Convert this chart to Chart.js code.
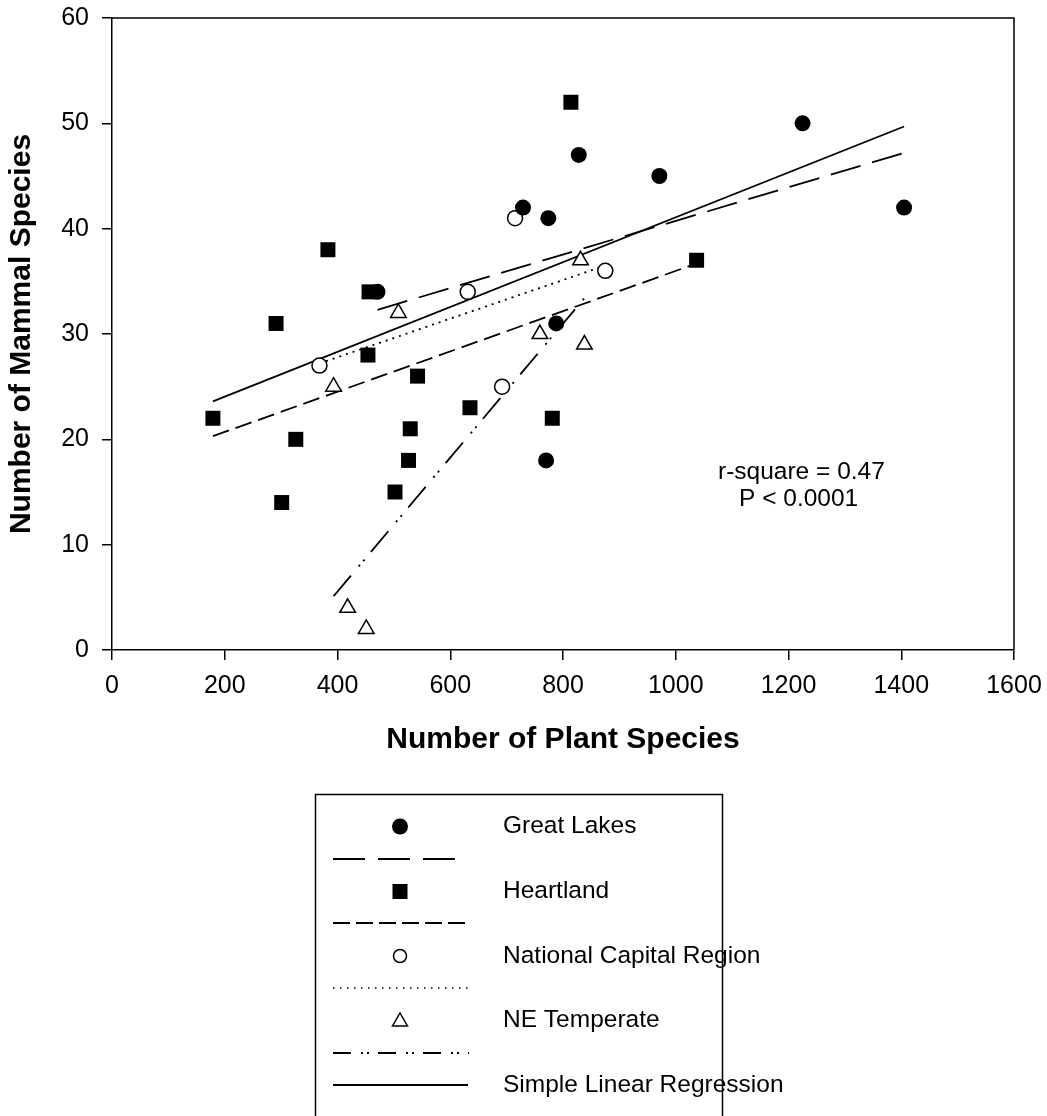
<!DOCTYPE html>
<html>
<head>
<meta charset="utf-8">
<script src="https://cdn.jsdelivr.net/npm/chart.js@4/dist/chart.umd.min.js"></script>
<style>
  html, body { margin: 0; padding: 0; background: #ffffff; }
  #wrap { width: 1047px; height: 1116px; position: relative; }
</style>
</head>
<body>
<div id="wrap"><canvas id="chart" width="1047" height="1116"></canvas></div>
<script>
// Plant vs. mammal species richness by network
const greatLakesX = [471, 729, 770, 774, 788, 828, 971, 1225, 1405];
const greatLakesY = [34, 42, 18, 41, 31, 47, 45, 50, 42];

const heartlandX = [179, 291, 301, 326, 383, 454, 456, 502, 526, 529, 542, 635, 781, 814, 1037];
const heartlandY = [22, 31, 14, 20, 38, 28, 34, 15, 18, 21, 26, 23, 22, 52, 37];

const capitalX = [368, 631, 692, 715, 875];
const capitalY = [27, 34, 25, 41, 36];

const neTemperateX = [393, 418, 451, 508, 759, 831, 838];
const neTemperateY = [25, 4, 2, 32, 30, 37, 29];

// Fitted regression lines (end points)
const fitGreatLakesX = [471, 1405];
const fitGreatLakesY = [32.3, 47.2];
const fitHeartlandX = [179, 1037];
const fitHeartlandY = [20.3, 36.7];
const fitCapitalX = [368, 875];
const fitCapitalY = [27.2, 36.5];
const fitNeTemperateX = [393, 838];
const fitNeTemperateY = [5.1, 33.4];
const fitAllX = [179, 1405];
const fitAllY = [23.6, 49.7];

const xTicks = [0, 200, 400, 600, 800, 1000, 1200, 1400, 1600];
const yTicks = [0, 10, 20, 30, 40, 50, 60];

const legendNames = ['Great Lakes', 'Heartland', 'National Capital Region', 'NE Temperate', 'Simple Linear Regression'];
const statsLines = ['r-square = 0.47', 'P < 0.0001'];

const FONT = "Arial, 'Liberation Sans', sans-serif";

function pts(xs, ys) { return xs.map((x, i) => ({ x: x, y: ys[i] })); }

const dashLongGL = [31, 12];
const dashHeart = [17, 7];
const dashDot = [2, 5];
const dashNE = [27, 12, 2, 5, 2, 10];

function fitLine(label, xs, ys, dash) {
  return {
    label: label, data: pts(xs, ys), showLine: true, pointRadius: 0, pointHoverRadius: 0,
    borderColor: '#000', borderWidth: 1.8, borderDash: dash, backgroundColor: 'transparent', order: 2
  };
}

// Stats text, outer frame and the boxed legend
const extras = {
  id: 'extras',
  afterDraw(chart) {
    const ctx = chart.ctx;
    const a = chart.chartArea;
    ctx.save();
    // top and right frame edges
    ctx.strokeStyle = '#000';
    ctx.lineWidth = 1.5;
    ctx.beginPath();
    ctx.moveTo(a.left, a.top);
    ctx.lineTo(a.right, a.top);
    ctx.lineTo(a.right, a.bottom);
    ctx.stroke();

    // regression statistics
    ctx.fillStyle = '#000';
    ctx.font = '24.5px ' + FONT;
    ctx.textAlign = 'left';
    ctx.textBaseline = 'alphabetic';
    ctx.fillText(statsLines[0], 718, 479);
    ctx.fillText(statsLines[1], 739, 506);

    // legend box
    ctx.lineWidth = 1.5;
    ctx.strokeRect(315.5, 794.5, 407, 330);

    const mx = 400, tx = 503;
    const rows = [826.5, 891.5, 956, 1020.5, 1085];
    const lineRows = [859, 923, 988, 1053, 1085];

    // markers
    ctx.fillStyle = '#000';
    ctx.beginPath(); ctx.arc(mx, rows[0], 8, 0, Math.PI * 2); ctx.fill();
    ctx.fillRect(mx - 7.5, rows[1] - 7.5, 15, 15);
    ctx.fillStyle = '#fff';
    ctx.lineWidth = 1.5;
    ctx.beginPath(); ctx.arc(mx, rows[2], 6.5, 0, Math.PI * 2); ctx.fill(); ctx.stroke();
    ctx.beginPath();
    ctx.moveTo(mx, rows[3] - 7.5);
    ctx.lineTo(mx + 7.5, rows[3] + 5.5);
    ctx.lineTo(mx - 7.5, rows[3] + 5.5);
    ctx.closePath(); ctx.fill(); ctx.stroke();

    // line samples
    const samples = [
      { y: lineRows[0], dash: [32, 13], x1: 456, w: 1.8 },
      { y: lineRows[1], dash: [17, 6], x1: 466, w: 1.8 },
      { y: lineRows[2], dash: [1.5, 5.5], x1: 468, w: 1.5 },
      { y: lineRows[3], dash: [18, 10, 2, 4, 2, 9], x1: 469, w: 1.8 },
      { y: lineRows[4], dash: [], x1: 468, w: 1.8 }
    ];
    ctx.strokeStyle = '#000';
    samples.forEach(s => {
      ctx.setLineDash(s.dash);
      ctx.lineWidth = s.w;
      ctx.beginPath(); ctx.moveTo(333, s.y); ctx.lineTo(s.x1, s.y); ctx.stroke();
    });
    ctx.setLineDash([]);

    // legend labels
    ctx.fillStyle = '#000';
    ctx.font = '24.5px ' + FONT;
    ctx.textBaseline = 'middle';
    ctx.textAlign = 'left';
    legendNames.forEach((name, i) => ctx.fillText(name, tx, rows[i]));
    ctx.restore();
  }
};

function noEdgePadding(scale) {
  scale.paddingLeft = 0;
  scale.paddingRight = 0;
  scale.paddingTop = 0;
  scale.paddingBottom = 0;
}

const axisCommon = {
  type: 'linear',
  grid: { display: true, drawOnChartArea: false, drawTicks: true, tickLength: 10, color: '#000', lineWidth: 1.5 },
  border: { display: true, color: '#000', width: 1.5 },
};

new Chart(document.getElementById('chart'), {
  type: 'scatter',
  data: {
    datasets: [
      { label: legendNames[0], data: pts(greatLakesX, greatLakesY), pointStyle: 'circle', pointRadius: 8,
        backgroundColor: '#000', borderColor: '#000', borderWidth: 0, order: 1 },
      { label: legendNames[1], data: pts(heartlandX, heartlandY), pointStyle: 'rect', pointRadius: 10.6,
        backgroundColor: '#000', borderColor: '#000', borderWidth: 0, order: 1 },
      { label: legendNames[2], data: pts(capitalX, capitalY), pointStyle: 'circle', pointRadius: 7.5,
        backgroundColor: '#fff', borderColor: '#000', borderWidth: 1.5, order: 1 },
      { label: legendNames[3], data: pts(neTemperateX, neTemperateY), pointStyle: 'triangle', pointRadius: 9,
        backgroundColor: '#fff', borderColor: '#000', borderWidth: 1.5, order: 1 },
      fitLine('Great Lakes fit', fitGreatLakesX, fitGreatLakesY, dashLongGL),
      fitLine('Heartland fit', fitHeartlandX, fitHeartlandY, dashHeart),
      fitLine('National Capital Region fit', fitCapitalX, fitCapitalY, dashDot),
      fitLine('NE Temperate fit', fitNeTemperateX, fitNeTemperateY, dashNE),
      fitLine(legendNames[4], fitAllX, fitAllY, [])
    ]
  },
  options: {
    responsive: false,
    animation: false,
    devicePixelRatio: 1,
    layout: { padding: { left: 0, top: 18, right: 33, bottom: 358 } },
    plugins: { legend: { display: false }, tooltip: { enabled: false } },
    scales: {
      x: Object.assign({}, axisCommon, {
        position: 'bottom',
        min: 0, max: 1600,
        afterBuildTicks(scale) { scale.ticks = xTicks.map(v => ({ value: v })); },
        afterFit(scale) { scale.height = 108; noEdgePadding(scale); },
        ticks: { color: '#000', font: { family: FONT, size: 25 }, padding: 11, maxRotation: 0, autoSkip: false,
                 callback: v => String(v) },
        title: { display: true, text: 'Number of Plant Species', color: '#000',
                 font: { family: FONT, size: 30, weight: 'bold' }, padding: { top: 0, bottom: 0 } }
      }),
      y: Object.assign({}, axisCommon, {
        position: 'left',
        min: 0, max: 60,
        afterBuildTicks(scale) { scale.ticks = yTicks.map(v => ({ value: v })); },
        afterFit(scale) { scale.width = 112; noEdgePadding(scale); },
        ticks: { color: '#000', font: { family: FONT, size: 25 }, padding: 13, autoSkip: false,
                 callback: v => String(v) },
        title: { display: true, text: 'Number of Mammal Species', color: '#000',
                 font: { family: FONT, size: 30, weight: 'bold' }, padding: { top: 4, bottom: 0 } }
      })
    }
  },
  plugins: [extras]
});
</script>
</body>
</html>
